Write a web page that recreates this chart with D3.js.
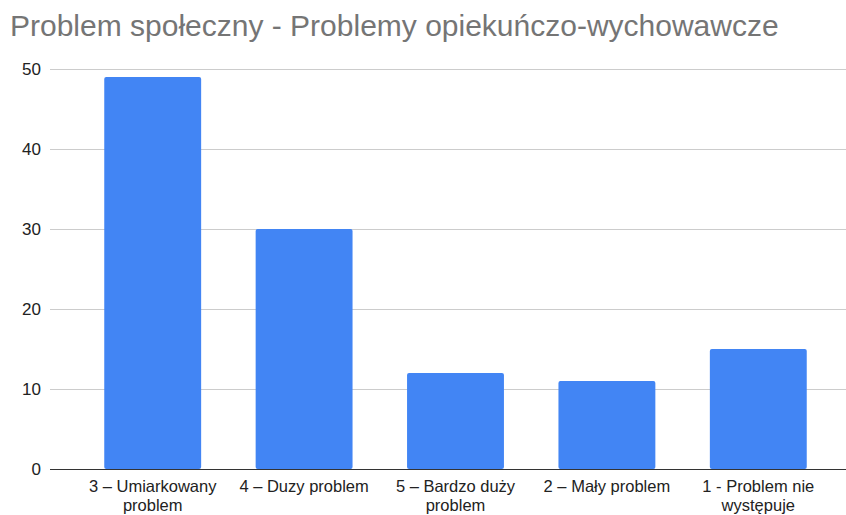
<!DOCTYPE html>
<meta charset="utf-8">
<style>
    html,
    body {
        margin: 0;
        padding: 0;
        background: #fff;
    }

    text {
        font-family: "Liberation Sans", Arial, sans-serif;
    }

    .grid line {
        stroke: #ccc;
        stroke-width: 1;
    }
</style>
<svg id="canvas" width="846" height="515"></svg>
<script src="https://d3js.org/d3.v7.min.js"></script>
<script>
    // chart data
    const categories = ["3 – Umiarkowany problem", "4 – Duzy problem", "5 – Bardzo duży problem", "2 – Mały problem", "1 - Problem nie występuje"];
    const counts = [49, 30, 12, 11, 15];
    const yTicks = [0, 10, 20, 30, 40, 50];

    var svg = d3.select("svg"),
        width = +svg.attr("width"),
        height = +svg.attr("height");

    var x = d3.scaleBand()
        .domain(categories)
        .range([77, 834])
        .paddingInner(0.36)
        .paddingOuter(0.18);

    var y = d3.scaleLinear()
        .domain([0, 50])
        .range([469, 69]);

    // title
    svg.append("text")
        .attr("x", 10)
        .attr("y", 36)
        .style("font-size", "30px")
        .style("fill", "#757575")
        .text("Problem społeczny - Problemy opiekuńczo-wychowawcze");

    // gridlines
    svg.append("g")
        .attr("class", "grid")
        .selectAll("line")
        .data(yTicks.filter(d => d !== 0))
        .enter().append("line")
        .attr("x1", 50)
        .attr("x2", width)
        .attr("y1", d => y(d) + 0.5)
        .attr("y2", d => y(d) + 0.5);

    // y labels
    svg.append("g")
        .selectAll("text")
        .data(yTicks)
        .enter().append("text")
        .attr("x", 41)
        .attr("y", d => y(d) + 6)
        .attr("text-anchor", "end")
        .style("font-size", "17px")
        .style("fill", "#222")
        .text(d => d);

    // bars
    svg.append("g")
        .selectAll("rect")
        .data(categories)
        .enter().append("rect")
        .attr("x", d => x(d))
        .attr("y", (d, i) => y(counts[i]))
        .attr("width", x.bandwidth())
        .attr("height", (d, i) => y(0) - y(counts[i]))
        .attr("rx", 2)
        .attr("fill", "#4285f4");

    // baseline
    svg.append("line")
        .attr("x1", 50)
        .attr("x2", width)
        .attr("y1", y(0) + 0.5)
        .attr("y2", y(0) + 0.5)
        .attr("stroke", "#333")
        .attr("stroke-width", 1.2);

    // x labels, wrapped
    var xl = svg.append("g")
        .selectAll("text")
        .data(categories)
        .enter().append("text")
        .attr("x", d => x(d) + x.bandwidth() / 2)
        .attr("y", 492)
        .attr("text-anchor", "middle")
        .style("font-size", "16.5px")
        .style("fill", "#222");

    xl.each(function(d) {
        var t = d3.select(this),
            words = d.split(" "),
            line = [],
            cx = +t.attr("x"),
            tspan = t.append("tspan").attr("x", cx).attr("dy", 0);
        words.forEach(function(w) {
            line.push(w);
            tspan.text(line.join(" "));
            if (tspan.node().getComputedTextLength() > 150 && line.length > 1) {
                line.pop();
                tspan.text(line.join(" "));
                line = [w];
                tspan = t.append("tspan").attr("x", cx).attr("dy", 18.5).text(w);
            }
        });
    });
</script>
